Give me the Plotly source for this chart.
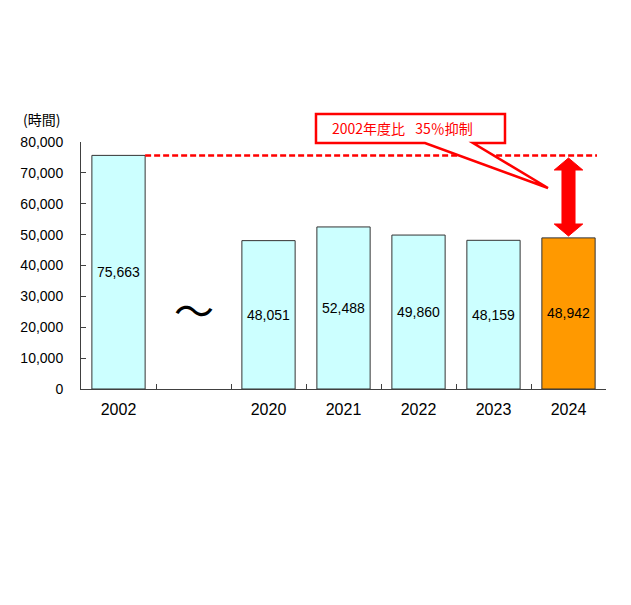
import plotly.graph_objects as go

categories = ["2002", " ", "2020", "2021", "2022", "2023", "2024"]
hours = [75663, None, 48051, 52488, 49860, 48159, 48942]
bar_colors = ["#CCFFFF", "#CCFFFF", "#CCFFFF", "#CCFFFF", "#CCFFFF", "#CCFFFF", "#FF9900"]
y_ticks = [0, 10000, 20000, 30000, 40000, 50000, 60000, 70000, 80000]
callout_text = "2002年度比\u2002 35％抑制"
unit_label = "(時間)"
gap_mark = "〜"

base = hours[0]
last = hours[-1]
last_idx = len(categories) - 1

fig = go.Figure()
fig.add_trace(go.Bar(
    x=categories, y=hours,
    marker=dict(color=bar_colors, line=dict(color="#333333", width=1)),
    text=[f"{v:,}" if v is not None else "" for v in hours],
    textposition="inside", insidetextanchor="middle", textangle=0,
    constraintext="none",
    textfont=dict(family="Liberation Sans, Arial, sans-serif", size=14, color="#000000"),
    hoverinfo="skip", showlegend=False,
))

font_main = "Liberation Sans, Arial, sans-serif"

# page body adds an 8px offset; compensate in figure size/margins
fig.update_layout(
    width=623, height=597,
    margin=dict(l=73, r=25, t=134, b=216),
    paper_bgcolor="white", plot_bgcolor="white",
    bargap=0.29,
    xaxis=dict(
        type="category", range=[-0.5, 6.5],
        showline=True, linecolor="#404040", linewidth=1,
        ticks="inside", tickson="boundaries", ticklen=5, tickcolor="#404040",
        showgrid=False, zeroline=False,
        tickfont=dict(family=font_main, size=16, color="#000000"),
        ticklabelstandoff=6,
    ),
    yaxis=dict(
        range=[0, 80000], tickvals=y_ticks, tickformat=",",
        showline=True, linecolor="#404040", linewidth=1,
        ticks="inside", ticklen=5, tickcolor="#404040",
        showgrid=False, zeroline=False,
        tickfont=dict(family=font_main, size=14, color="#000000"),
        ticklabelstandoff=14,
    ),
)

# dashed baseline from the 2002 bar to the right
fig.add_shape(type="line", xref="x", yref="y",
              x0=0.355, x1=6.38, y0=base, y1=base,
              line=dict(color="#FF0000", width=2.5, dash="6px,3px"))

# double arrow between baseline and 2024 bar
top = base * 0.989
bot = last + 600
head = 3900
sw, hw = 0.087, 0.19
cx = last_idx
arrow_path = (
    f"M {cx},{top} L {cx+hw},{top-head} L {cx+sw},{top-head} L {cx+sw},{bot+head} "
    f"L {cx+hw},{bot+head} L {cx},{bot} L {cx-hw},{bot+head} L {cx-sw},{bot+head} "
    f"L {cx-sw},{top-head} L {cx-hw},{top-head} Z"
)
fig.add_shape(type="path", xref="x", yref="y", path=arrow_path,
              fillcolor="#FF0000", line=dict(color="#FF0000", width=1))

# callout box (paper coordinates)
callout_path = (
    "M 0.4476,1.1134 L 0.8076,1.1134 L 0.8076,0.9960 L 0.7467,0.9960 "
    "L 0.8895,0.8138 L 0.6552,0.9960 L 0.4476,0.9960 Z"
)
fig.add_shape(type="path", xref="paper", yref="paper", path=callout_path,
              fillcolor="white", line=dict(color="#FF0000", width=2.5), layer="above")
fig.add_annotation(xref="paper", yref="paper", x=0.612, y=1.056,
                   xanchor="center", yanchor="middle",
                   text=callout_text, showarrow=False,
                   font=dict(family="Noto Sans CJK JP", size=14, color="#FF0000"))

fig.add_annotation(xref="paper", yref="paper", x=-0.036, y=1.093,
                   xanchor="right", yanchor="middle",
                   text=unit_label, showarrow=False,
                   font=dict(family="Noto Sans CJK JP", size=14, color="#000000"))

fig.add_annotation(xref="x", yref="y", x=1, y=25900, text=gap_mark,
                   xanchor="center", yanchor="middle",
                   showarrow=False,
                   font=dict(family="Noto Sans CJK JP", size=40, color="#000000"))

fig.write_html("out.html")
